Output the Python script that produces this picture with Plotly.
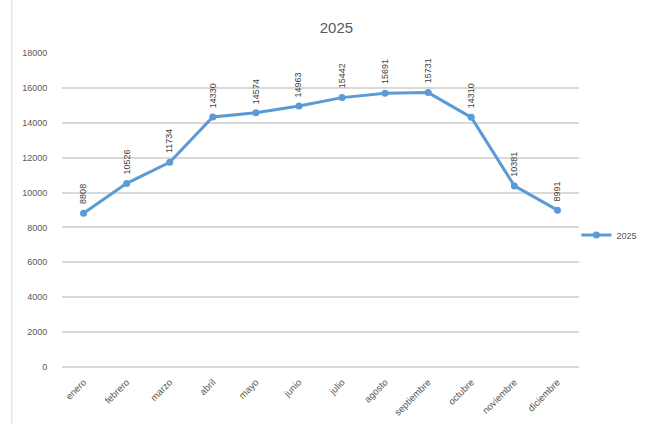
import plotly.graph_objects as go

meses = ["enero", "febrero", "marzo", "abril", "mayo", "junio", "julio",
         "agosto", "septiembre", "octubre", "noviembre", "diciembre"]
valores = [8808, 10526, 11734, 14330, 14574, 14963, 15442, 15691, 15731, 14310, 10381, 8991]
serie = "2025"
y_ticks = [0, 2000, 4000, 6000, 8000, 10000, 12000, 14000, 16000, 18000]

azul = "#5b9bd5"
gris_texto = "#595959"

fig = go.Figure()
fig.add_trace(go.Scatter(
    x=meses, y=valores, name=serie, mode="lines+markers",
    line=dict(color=azul, width=3),
    marker=dict(color=azul, size=7),
))

# vertical value labels above each point
for m, v in zip(meses, valores):
    fig.add_annotation(
        x=m, y=v, text=str(v), showarrow=False, textangle=-90,
        yanchor="bottom", yshift=7,
        font=dict(family="Liberation Sans, Arial", size=9, color="#404040"),
    )

# outer chart border on the left
fig.add_shape(type="line", xref="paper", yref="paper",
              x0=-0.097, x1=-0.097, y0=-0.2, y1=1.2,
              line=dict(color="#d9d9d9", width=1))

fig.update_layout(
    width=647, height=424,
    margin=dict(l=62, r=68, t=53, b=57, autoexpand=False),
    paper_bgcolor="white", plot_bgcolor="white",
    title=dict(text="2025", x=0.52, xanchor="center", y=0.935, yanchor="middle",
               font=dict(family="Liberation Sans, Arial", size=15, color=gris_texto)),
    showlegend=True,
    legend=dict(x=0.995, y=0.42, xanchor="left", yanchor="middle",
                font=dict(family="Liberation Sans, Arial", size=9, color=gris_texto),
                itemwidth=30, bgcolor="rgba(0,0,0,0)"),
    font=dict(family="Liberation Sans, Arial", size=9, color=gris_texto),
)
fig.update_xaxes(
    type="category", range=[-0.5, 11.5], tickangle=-45,
    showgrid=False, showline=False, ticks="outside", ticklen=5,
    tickcolor="rgba(0,0,0,0)",
    tickfont=dict(size=9.5, color=gris_texto),
)
fig.update_yaxes(
    range=[0, 18000], tickvals=y_ticks, ticktext=[str(t) for t in y_ticks],
    showgrid=True, gridcolor="#d9d9d9", gridwidth=1.5,
    zeroline=True, zerolinecolor="#d9d9d9", zerolinewidth=1.5,
    ticks="outside", ticklen=12, tickcolor="rgba(0,0,0,0)",
    tickfont=dict(size=9, color=gris_texto),
)

fig.write_html("out.html")
